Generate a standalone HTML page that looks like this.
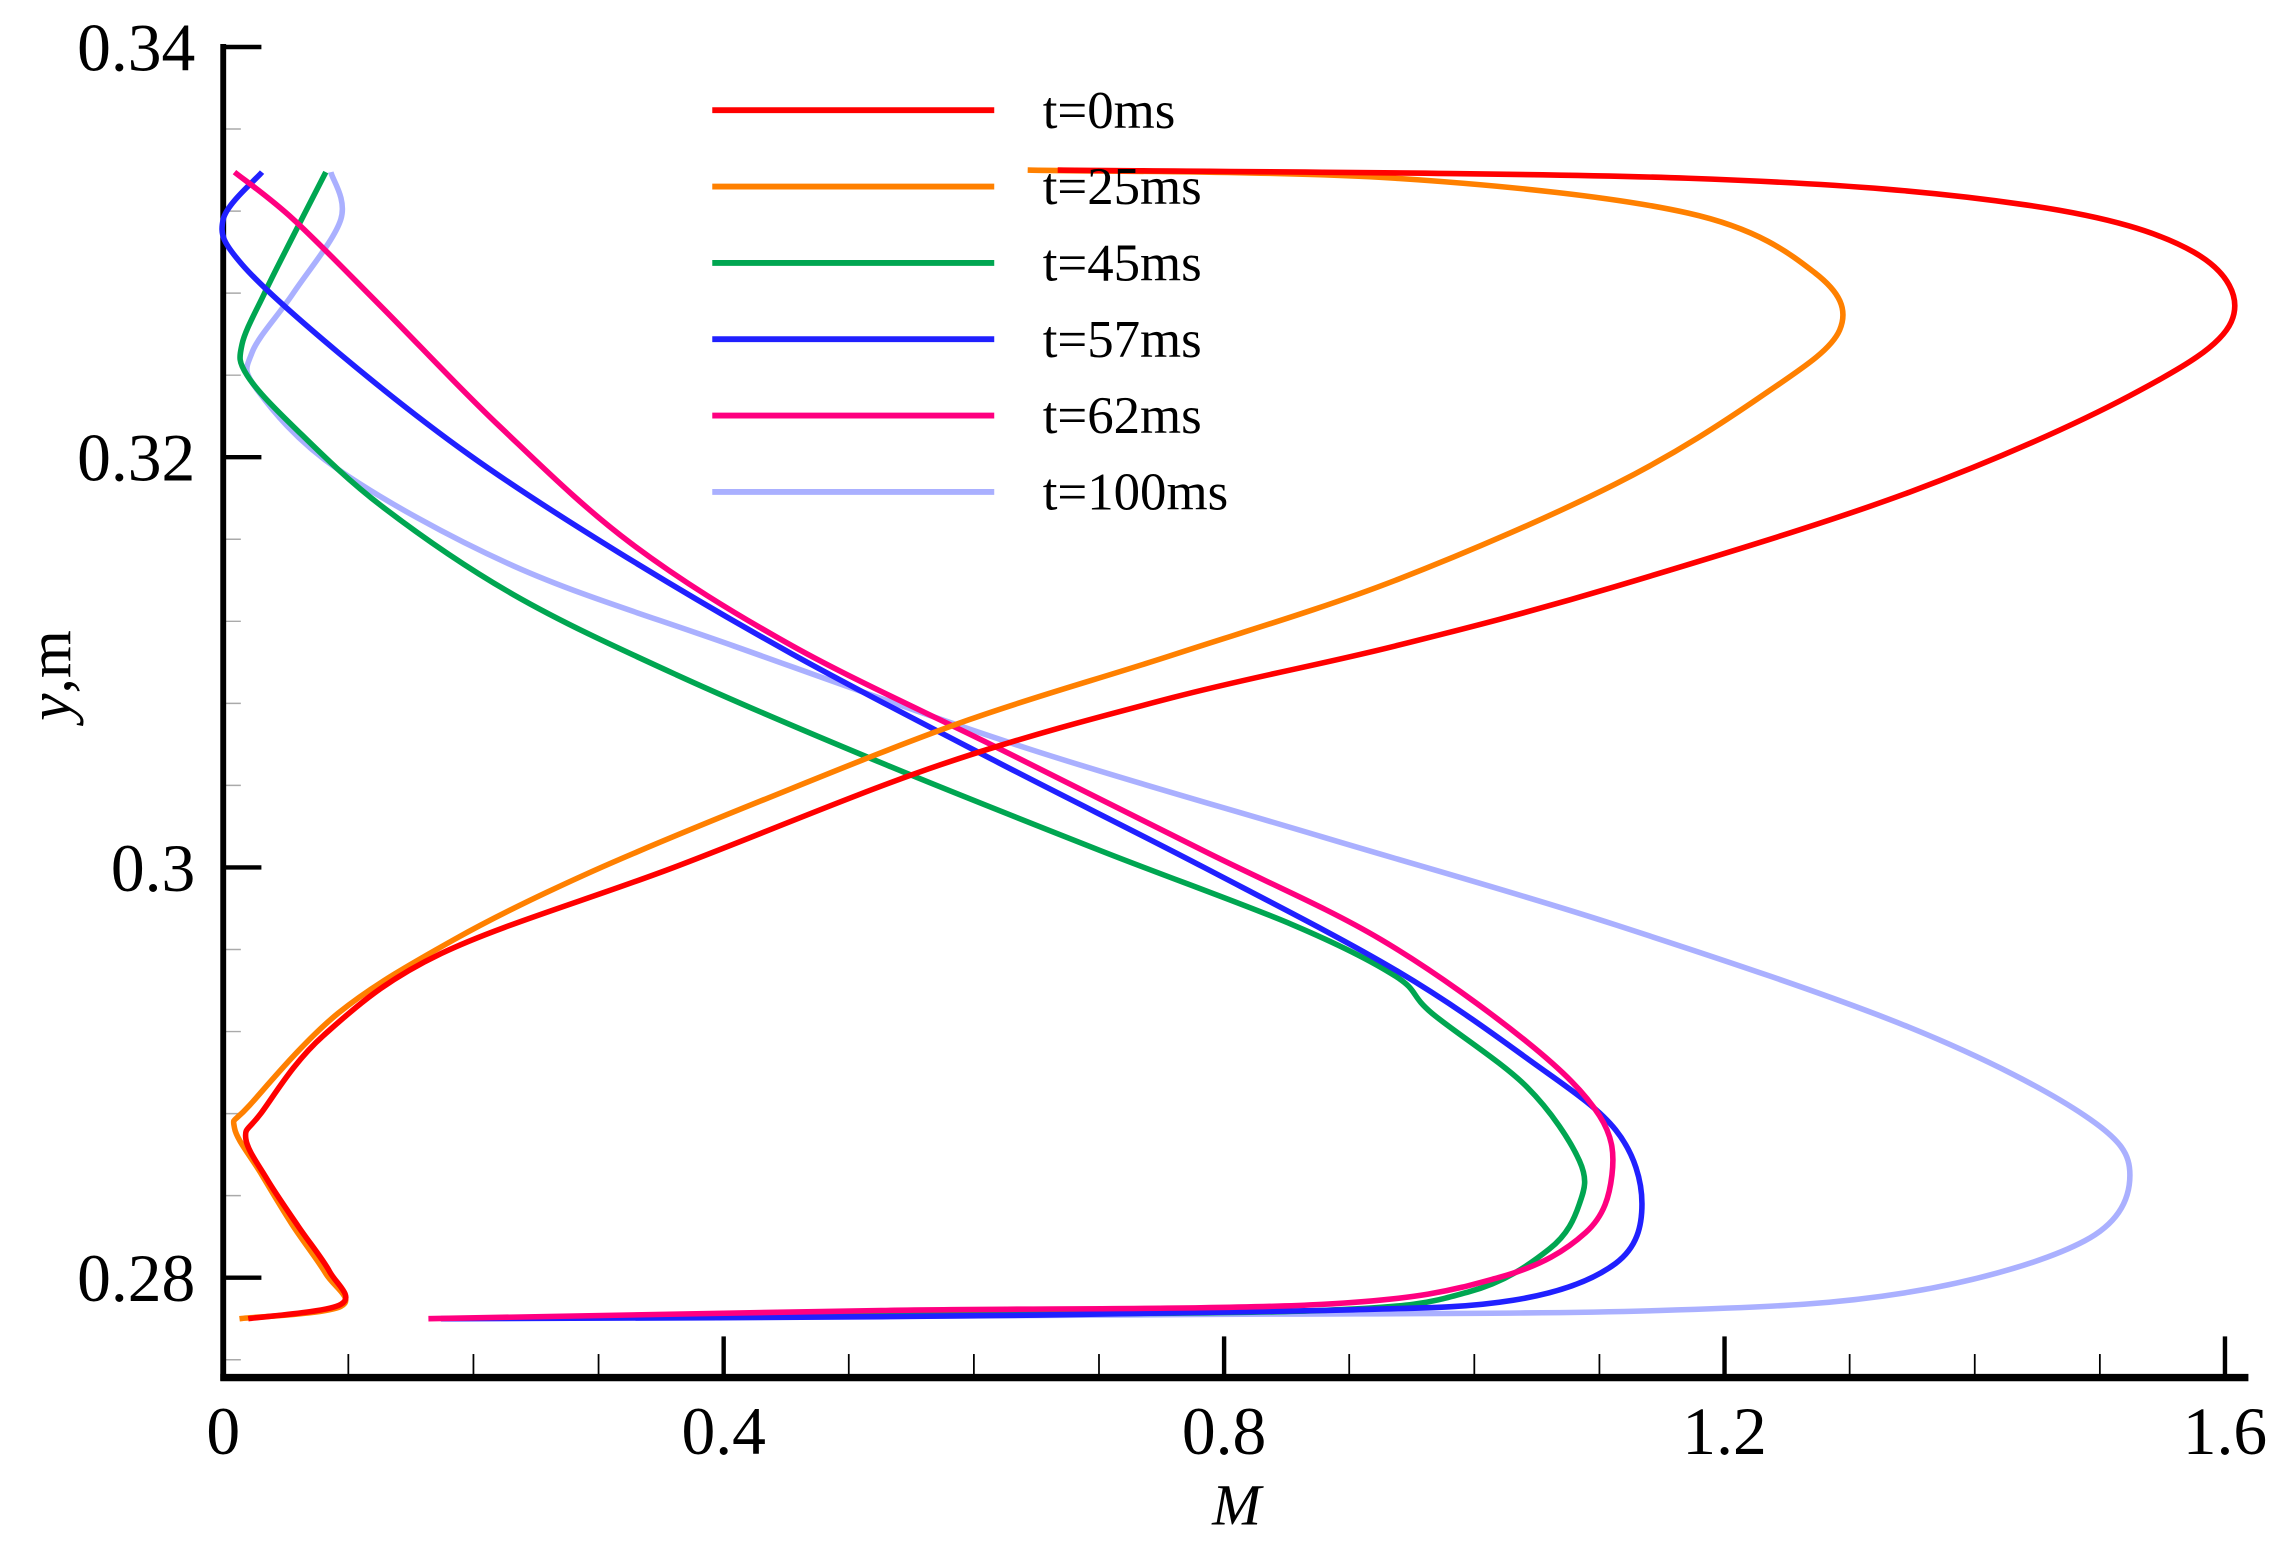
<!DOCTYPE html>
<html><head><meta charset="utf-8"><style>html,body{margin:0;padding:0;background:#fff}svg{display:block}text{font-family:"Liberation Serif",serif;fill:#000}</style></head>
<body>
<svg id="chart" width="2291" height="1547" viewBox="0 0 1560 1053.4" preserveAspectRatio="none" xmlns="http://www.w3.org/2000/svg">
<g id="axes"></g>
<g id="series"></g>
<g id="legend"></g>
<text x="842" y="1038" font-size="40" font-style="italic" text-anchor="middle">M</text>
<text transform="translate(48,460) rotate(-90)" font-size="42" text-anchor="middle"><tspan font-style="italic">y</tspan>,m</text>
</svg>
<script>
const xTicks=[0,0.4,0.8,1.2,1.6];
const xTickLabels=["0","0.4","0.8","1.2","1.6"];
const yTicks=[0.28,0.3,0.32,0.34];
const yTickLabels=["0.28","0.3","0.32","0.34"];
const seriesNames=["t=0ms","t=25ms","t=45ms","t=57ms","t=62ms","t=100ms"];
const seriesColors=["#ff0000","#ff8000","#00a651","#2020ff","#ff0080","#aab0ff"];
const m0=[0.02,0.094,0.085,0.06,0.035,0.018,0.03,0.08,0.174,0.36,0.573,0.76,0.937,1.113,1.348,1.524,1.605,1.575,1.441,1.171,0.667];
const y0=[0.2780,0.2787,0.2803,0.2825,0.2848,0.2868,0.2880,0.2918,0.2958,0.3,0.305,0.3083,0.3108,0.3137,0.3183,0.323,0.3266,0.3300,0.3323,0.3336,0.334];
const m25=[0.013,0.094,0.082,0.055,0.03,0.009,0.021,0.092,0.185,0.291,0.432,0.596,0.761,0.937,1.113,1.23,1.292,1.272,1.171,0.937,0.643];
const y25=[0.278,0.2786,0.2802,0.2826,0.2851,0.2873,0.2884,0.2929,0.2965,0.2997,0.3033,0.3072,0.3104,0.314,0.3187,0.323,0.3262,0.329,0.3319,0.3336,0.334];
const m45=[0.082,0.056,0.033,0.015,0.019,0.056,0.127,0.232,0.362,0.526,0.702,0.855,0.937,0.966,1.042,1.084,1.084,1.06,0.995,0.878,0.526,0.338];
const y45=[0.3339,0.3308,0.328,0.3255,0.324,0.3215,0.3176,0.3133,0.3094,0.3051,0.3008,0.2972,0.2947,0.2929,0.2893,0.2857,0.2836,0.2814,0.2793,0.2784,0.2782,0.2781];
const m57=[0.031,0,0.015,0.092,0.197,0.315,0.455,0.62,0.784,0.937,1.042,1.113,1.134,1.113,1.031,0.878,0.526,0.174];
const y57=[0.3339,0.3316,0.3294,0.3251,0.3201,0.3154,0.3104,0.3051,0.3,0.295,0.2907,0.2872,0.2836,0.2807,0.2789,0.2784,0.2781,0.278];
const m62=[0.009,0.056,0.127,0.221,0.326,0.455,0.62,0.784,0.925,1.042,1.1,1.11,1.089,1.019,0.878,0.526,0.164];
const y62=[0.3339,0.3316,0.3273,0.3215,0.3158,0.3108,0.3058,0.3008,0.2965,0.2915,0.2879,0.285,0.2822,0.28,0.2787,0.2784,0.278];
const m100=[0.086,0.094,0.056,0.023,0.027,0.092,0.232,0.408,0.643,0.878,1.113,1.348,1.488,1.524,1.488,1.348,1.148,0.761,0.174];
const y100=[0.3339,0.3316,0.328,0.3251,0.3233,0.3194,0.3147,0.3108,0.3058,0.3015,0.2972,0.2922,0.2879,0.285,0.2818,0.2793,0.2784,0.2782,0.278];

const NS="http://www.w3.org/2000/svg";
const X0=152,XS=851.9,Y0=32,YS=13967;
function sx(m){return X0+m*XS;}
function sy(y){return Y0+(0.34-y)*YS;}
function mk(tag,attrs,parent){const e=document.createElementNS(NS,tag);for(const k in attrs)e.setAttribute(k,attrs[k]);parent.appendChild(e);return e;}
const axes=document.getElementById('axes');
for(let v=0.276;v<0.3401;v+=0.004){const p=sy(v);if(p>938)continue;
 const t=mk('line',{x1:152,x2:164,y1:p,y2:p,stroke:'#aaa','stroke-width':1},axes);
 
 }
for(let v=0.1;v<1.61;v+=0.1){const p=sx(v);
 const t=mk('line',{x1:p,x2:p,y1:938,y2:922,stroke:'#000','stroke-width':1.2},axes);
 
 }
const yAxis=mk('line',{x1:152,x2:152,y1:30,y2:940,stroke:'#000','stroke-width':4},axes);


const xAxis=mk('line',{x1:150,x2:1531,y1:938,y2:938,stroke:'#000','stroke-width':5},axes);


yTicks.forEach((v,i)=>{const p=sy(v);
 const t=mk('line',{x1:152,x2:178,y1:p,y2:p,stroke:'#000','stroke-width':3},axes);
 
 
 const l=mk('text',{x:133,y:p+16,'font-size':46,'text-anchor':'end'},axes);l.textContent=yTickLabels[i];
 
 });
xTicks.forEach((v,i)=>{const p=sx(v);
 const t=mk('line',{x1:p,x2:p,y1:938,y2:910,stroke:'#000','stroke-width':3},axes);
 
 
 const l=mk('text',{x:p,y:990,'font-size':46,'text-anchor':'middle'},axes);l.textContent=xTickLabels[i];
 
 });
function pathFor(ms,ys){const P=ms.map((m,i)=>[sx(m),sy(ys[i])]);let d='M'+P[0][0]+','+P[0][1];
 for(let i=0;i<P.length-1;i++){const p0=P[i-1]||P[i],p1=P[i],p2=P[i+1],p3=P[i+2]||P[i+1];
  const c1=[p1[0]+(p2[0]-p0[0])/6,p1[1]+(p2[1]-p0[1])/6],c2=[p2[0]-(p3[0]-p1[0])/6,p2[1]-(p3[1]-p1[1])/6];
  d+=' C'+c1[0]+','+c1[1]+' '+c2[0]+','+c2[1]+' '+p2[0]+','+p2[1];}
 return d;}
const allM=[m0,m25,m45,m57,m62,m100],allY=[y0,y25,y45,y57,y62,y100];
const sg=document.getElementById('series'),lg=document.getElementById('legend');
[5,2,3,4,1,0].forEach(i=>{const p=mk('path',{d:pathFor(allM[i],allY[i]),fill:'none',stroke:seriesColors[i],'stroke-width':3.8,'stroke-linejoin':'round'},sg);
 
 });
seriesNames.forEach((n,i)=>{const yy=75+i*52;
 const l=mk('line',{x1:485,x2:677,y1:yy,y2:yy,stroke:seriesColors[i],'stroke-width':4},lg);
 
 
 const t=mk('text',{x:710,y:yy+12,'font-size':36},lg);t.textContent=n;
 
 });
</script>
</body></html>
